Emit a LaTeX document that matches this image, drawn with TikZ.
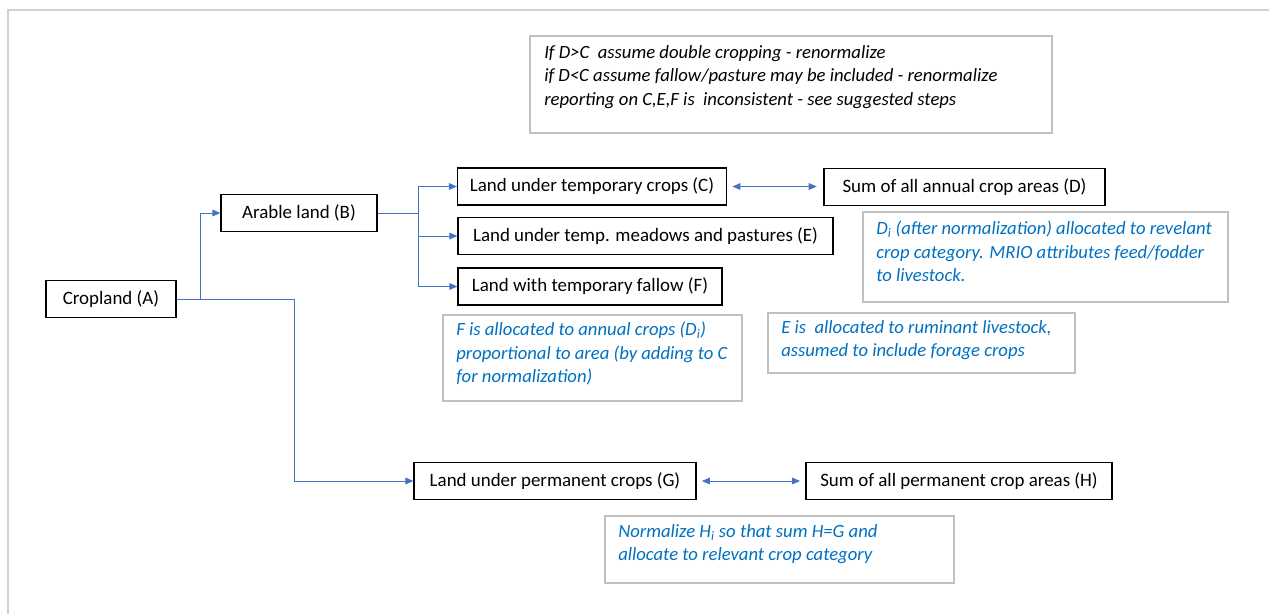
\documentclass[tikz,border=0pt]{standalone}
\usepackage{fontspec}
\setmainfont{Carlito}
\usetikzlibrary{arrows.meta}

\definecolor{linkblue}{HTML}{4472C4}
\definecolor{noteblue}{HTML}{0070C0}
\definecolor{notegray}{HTML}{BFBFBF}
\def\px{0.75pt}

\tikzset{
  landbox/.style={draw=black, line width=0.9pt, minimum height=37*\px, inner xsep=3pt, font=\fontsize{14.2}{16}\selectfont},
  link/.style={draw=linkblue, line width=0.75pt, -{Triangle[length=6pt,width=5pt]}},
  twoway/.style={draw=linkblue, line width=0.75pt, {Triangle[length=6pt,width=5pt]}-{Triangle[length=6pt,width=5pt]}},
  notebox/.style={draw=notegray, line width=0.8pt},
  notetext/.style={anchor=north west, inner sep=0pt, align=left, font=\fontsize{14}{17.6}\selectfont\itshape},
}

\begin{document}
\begin{tikzpicture}[x=0.75pt,y=-0.75pt]
\useasboundingbox (0,0) rectangle (1269,614);
\draw[black!18, line width=0.8pt] (8,614) -- (8,10) -- (1269,10);

% land categories
\node[landbox, minimum width=130*\px] (A) at (111,299) {Cropland (A)};
\node[landbox, minimum width=156*\px] (B) at (299,213) {Arable land (B)};
\node[landbox, minimum width=269*\px] (C) at (592,186.5) {Land under temporary crops (C)};
\node[landbox, minimum width=375*\px] (E) at (645.5,236) {Land under temp. meadows and pastures (E)};
\node[landbox, minimum width=264*\px] (F) at (590,286.5) {Land with temporary fallow (F)};
\node[landbox, minimum width=281*\px] (D) at (964.5,187) {Sum of all annual crop areas (D)};
\node[landbox, minimum width=282*\px] (G) at (555,481) {Land under permanent crops (G)};
\node[landbox, minimum width=306*\px] (H) at (959,481) {Sum of all permanent crop areas (H)};

\coordinate (asplit) at (200,299);
\coordinate (gturn) at (294,299);
\coordinate (bsplit) at (418,213);

\draw[link] (A.east) -- (asplit) |- (B.west);
\draw[link] (asplit) -- (gturn) |- (G.west);
\draw[link,-] (B.east) -- (bsplit);
\draw[link] (bsplit) |- (C.west);
\draw[link] (bsplit) |- (E.west);
\draw[link] (bsplit) |- (F.west);
\draw[twoway] ([xshift=4pt]C.east) -- ([xshift=-5pt]C.east -| D.west);
\draw[twoway] ([xshift=4pt]G.east) -- ([xshift=-4pt]G.east -| H.west);

% notes
\draw[notebox] (530,36) rectangle (1052,133);
\node[notetext] (checks) at (544,45) {If D>C\ \ assume double cropping - renormalize\\if D<C assume fallow/pasture may be included - renormalize\\reporting on C,E,F is\ \ inconsistent - see suggested steps};

\draw[notebox] (863,212) rectangle (1228,302);
\node[notetext, text=noteblue] (dnote) at (876,221) {D\textsubscript{i} (after normalization) allocated to revelant\\crop category. MRIO attributes feed/fodder\\to livestock.};

\draw[notebox] (443,315) rectangle (742,401);
\node[notetext, text=noteblue] (fnote) at (456,322) {F is allocated to annual crops (D\textsubscript{i})\\proportional to area (by adding to C\\for normalization)};

\draw[notebox] (768,313) rectangle (1075,373);
\node[notetext, text=noteblue] (enote) at (781,320) {E is\ \ allocated to ruminant livestock,\\assumed to include forage crops};

\draw[notebox] (605,516) rectangle (954,583);
\node[notetext, text=noteblue] (hnote) at (618,524) {Normalize H\textsubscript{i} so that sum H=G and\\allocate to relevant crop category};
\end{tikzpicture}
\end{document}
